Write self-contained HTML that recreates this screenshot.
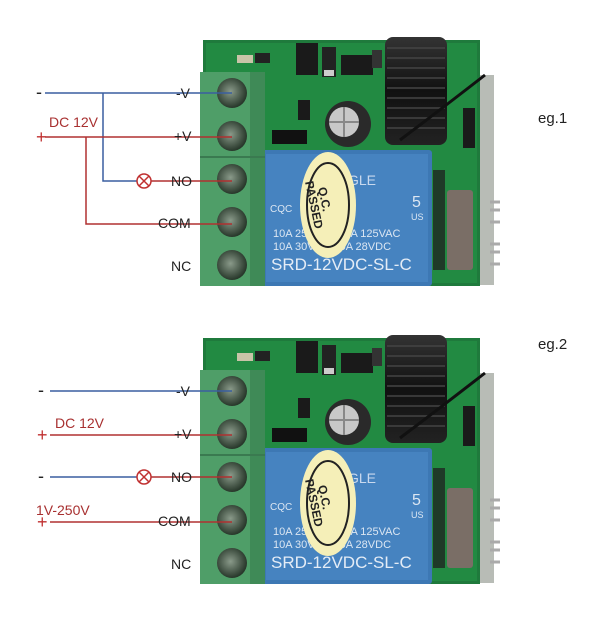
<!DOCTYPE html>
<html><head><meta charset="utf-8"><style>
html,body{margin:0;padding:0;background:#fff;width:600px;height:621px;overflow:hidden}
svg{display:block}
text{font-family:"Liberation Sans",sans-serif}
</style></head><body>
<svg width="600" height="621" viewBox="0 0 600 621" xmlns="http://www.w3.org/2000/svg">
<defs>
<radialGradient id="scr" cx="0.45" cy="0.45" r="0.6"><stop offset="0" stop-color="#8a9a8a"/><stop offset="0.7" stop-color="#3e4e40"/><stop offset="1" stop-color="#1f2e22"/></radialGradient>
<linearGradient id="coil" x1="0" x2="0" y1="0" y2="1"><stop offset="0" stop-color="#333"/><stop offset="0.5" stop-color="#111"/><stop offset="1" stop-color="#222"/></linearGradient>
</defs>

<!-- ===== MODULE 1 ===== -->
<g id="m1">
<rect x="478" y="75" width="16" height="210" fill="#b8bcb6"/>
<rect x="203" y="40" width="277" height="246" fill="#1f7a3c"/>
<rect x="206" y="43" width="271" height="240" fill="#228a42" />
<rect x="237" y="55" width="16" height="8" fill="#c9c4a8"/>
<rect x="255" y="53" width="15" height="10" fill="#222"/>
<rect x="296" y="43" width="22" height="32" fill="#1a1a1a"/>
<rect x="322" y="47" width="14" height="30" fill="#222"/><rect x="324" y="70" width="10" height="6" fill="#ccc"/>
<rect x="341" y="55" width="32" height="20" fill="#1a1a1a"/>
<rect x="372" y="50" width="10" height="18" fill="#333"/>
<rect x="298" y="100" width="12" height="20" fill="#1a1a1a"/>
<rect x="272" y="130" width="35" height="14" fill="#111"/>
<circle cx="348" cy="124" r="23" fill="#2a2a2a"/>
<circle cx="344" cy="122" r="15" fill="#c8c8c8"/>
<path d="M344 107 V137 M329 122 H359" stroke="#888" stroke-width="2"/>
<rect x="385" y="37" width="62" height="108" rx="8" fill="url(#coil)"/>
<g stroke="#444" stroke-width="1.5">
<line x1="387" y1="48" x2="445" y2="48"/><line x1="387" y1="58" x2="445" y2="58"/><line x1="387" y1="68" x2="445" y2="68"/><line x1="387" y1="78" x2="445" y2="78"/><line x1="387" y1="88" x2="445" y2="88"/><line x1="387" y1="98" x2="445" y2="98"/><line x1="387" y1="108" x2="445" y2="108"/><line x1="387" y1="118" x2="445" y2="118"/><line x1="387" y1="128" x2="445" y2="128"/></g>
<path d="M400 140 Q440 110 485 75" stroke="#111" stroke-width="3" fill="none"/>
<rect x="463" y="108" width="12" height="40" fill="#1a1a1a"/>
<rect x="447" y="190" width="26" height="80" rx="3" fill="#7a6e66"/>
<g stroke="#aaa" stroke-width="3"><line x1="490" y1="202" x2="500" y2="202"/><line x1="490" y1="210" x2="500" y2="210"/><line x1="490" y1="222" x2="500" y2="222"/><line x1="490" y1="244" x2="500" y2="244"/><line x1="490" y1="252" x2="500" y2="252"/><line x1="490" y1="264" x2="500" y2="264"/></g>
<rect x="433" y="170" width="12" height="100" fill="#1f3a28"/>
<!-- relay -->
<rect x="262" y="150" width="170" height="136" rx="3" fill="#3d78b4"/>
<rect x="266" y="154" width="162" height="128" fill="#4683c0"/>
<text x="348" y="185" font-size="14" fill="#c9d9ee" font-family="Liberation Serif,serif">GLE</text>
<text x="412" y="207" font-size="16" fill="#dbe6f2">5</text>
<text x="411" y="220" font-size="9" fill="#dbe6f2">US</text>
<text x="270" y="212" font-size="10" fill="#dbe6f2">CQC</text>
<text x="273" y="237" font-size="11" fill="#dbe6f2">10A 250VAC  10A 125VAC</text>
<text x="273" y="250" font-size="11" fill="#dbe6f2">10A 30VDC  10A  28VDC</text>
<text x="271" y="270" font-size="17" fill="#e4ecf6">SRD-12VDC-SL-C</text>
<ellipse cx="328" cy="205" rx="28" ry="53" fill="#f5efb8"/>
<ellipse cx="328" cy="205" rx="21" ry="42" fill="none" stroke="#222" stroke-width="2"/>
<text transform="translate(318,188) rotate(78)" font-size="12" font-weight="bold" fill="#222">Q.C.</text>
<text transform="translate(305,182) rotate(78)" font-size="12" font-weight="bold" fill="#222">PASSED</text>
<!-- terminal block -->
<rect x="200" y="72" width="65" height="214" fill="#4f9e68"/>
<rect x="250" y="72" width="15" height="214" fill="#3f8a57"/>
<line x1="200" y1="157" x2="265" y2="157" stroke="#3a7a50" stroke-width="2"/>
<circle cx="232" cy="93" r="15" fill="url(#scr)"/>
<circle cx="232" cy="136" r="15" fill="url(#scr)"/>
<circle cx="232" cy="179" r="15" fill="url(#scr)"/>
<circle cx="232" cy="222" r="15" fill="url(#scr)"/>
<circle cx="232" cy="265" r="15" fill="url(#scr)"/>
<!-- wires -->
<path d="M45 93 H232 M103 93 V181 H137" stroke="#3a5fa0" stroke-width="1.5" fill="none"/>
<path d="M45 137 H232 M86 137 V224 H232 M151 181 H232" stroke="#b03030" stroke-width="1.5" fill="none"/>
<circle cx="144" cy="181" r="7" fill="#fff" stroke="#c03030" stroke-width="1.5"/>
<path d="M139 176 L149 186 M149 176 L139 186" stroke="#c03030" stroke-width="1.5"/>
<text x="36" y="98" font-size="18" fill="#222">-</text>
<text x="36" y="143" font-size="18" fill="#c03030">+</text>
<text x="49" y="127" font-size="14" fill="#a83030">DC 12V</text>
<text x="176" y="98" font-size="14" fill="#222">-V</text>
<text x="174" y="141" font-size="14" fill="#222">+V</text>
<text x="171" y="186" font-size="14" fill="#222">NO</text>
<text x="158" y="228" font-size="14" fill="#222">COM</text>
<text x="171" y="271" font-size="14" fill="#222">NC</text>
<text x="538" y="123" font-size="15" fill="#222">eg.1</text>
</g>

<!-- ===== MODULE 2 ===== -->
<g transform="translate(0,298)">
<rect x="478" y="75" width="16" height="210" fill="#b8bcb6"/>
<rect x="203" y="40" width="277" height="246" fill="#1f7a3c"/>
<rect x="206" y="43" width="271" height="240" fill="#228a42" />
<rect x="237" y="55" width="16" height="8" fill="#c9c4a8"/>
<rect x="255" y="53" width="15" height="10" fill="#222"/>
<rect x="296" y="43" width="22" height="32" fill="#1a1a1a"/>
<rect x="322" y="47" width="14" height="30" fill="#222"/><rect x="324" y="70" width="10" height="6" fill="#ccc"/>
<rect x="341" y="55" width="32" height="20" fill="#1a1a1a"/>
<rect x="372" y="50" width="10" height="18" fill="#333"/>
<rect x="298" y="100" width="12" height="20" fill="#1a1a1a"/>
<rect x="272" y="130" width="35" height="14" fill="#111"/>
<circle cx="348" cy="124" r="23" fill="#2a2a2a"/>
<circle cx="344" cy="122" r="15" fill="#c8c8c8"/>
<path d="M344 107 V137 M329 122 H359" stroke="#888" stroke-width="2"/>
<rect x="385" y="37" width="62" height="108" rx="8" fill="url(#coil)"/>
<g stroke="#444" stroke-width="1.5">
<line x1="387" y1="48" x2="445" y2="48"/><line x1="387" y1="58" x2="445" y2="58"/><line x1="387" y1="68" x2="445" y2="68"/><line x1="387" y1="78" x2="445" y2="78"/><line x1="387" y1="88" x2="445" y2="88"/><line x1="387" y1="98" x2="445" y2="98"/><line x1="387" y1="108" x2="445" y2="108"/><line x1="387" y1="118" x2="445" y2="118"/><line x1="387" y1="128" x2="445" y2="128"/></g>
<path d="M400 140 Q440 110 485 75" stroke="#111" stroke-width="3" fill="none"/>
<rect x="463" y="108" width="12" height="40" fill="#1a1a1a"/>
<rect x="447" y="190" width="26" height="80" rx="3" fill="#7a6e66"/>
<g stroke="#aaa" stroke-width="3"><line x1="490" y1="202" x2="500" y2="202"/><line x1="490" y1="210" x2="500" y2="210"/><line x1="490" y1="222" x2="500" y2="222"/><line x1="490" y1="244" x2="500" y2="244"/><line x1="490" y1="252" x2="500" y2="252"/><line x1="490" y1="264" x2="500" y2="264"/></g>
<rect x="433" y="170" width="12" height="100" fill="#1f3a28"/>
<rect x="262" y="150" width="170" height="136" rx="3" fill="#3d78b4"/>
<rect x="266" y="154" width="162" height="128" fill="#4683c0"/>
<text x="348" y="185" font-size="14" fill="#c9d9ee" font-family="Liberation Serif,serif">GLE</text>
<text x="412" y="207" font-size="16" fill="#dbe6f2">5</text>
<text x="411" y="220" font-size="9" fill="#dbe6f2">US</text>
<text x="270" y="212" font-size="10" fill="#dbe6f2">CQC</text>
<text x="273" y="237" font-size="11" fill="#dbe6f2">10A 250VAC  10A 125VAC</text>
<text x="273" y="250" font-size="11" fill="#dbe6f2">10A 30VDC  10A  28VDC</text>
<text x="271" y="270" font-size="17" fill="#e4ecf6">SRD-12VDC-SL-C</text>
<ellipse cx="328" cy="205" rx="28" ry="53" fill="#f5efb8"/>
<ellipse cx="328" cy="205" rx="21" ry="42" fill="none" stroke="#222" stroke-width="2"/>
<text transform="translate(318,188) rotate(78)" font-size="12" font-weight="bold" fill="#222">Q.C.</text>
<text transform="translate(305,182) rotate(78)" font-size="12" font-weight="bold" fill="#222">PASSED</text>
<rect x="200" y="72" width="65" height="214" fill="#4f9e68"/>
<rect x="250" y="72" width="15" height="214" fill="#3f8a57"/>
<line x1="200" y1="157" x2="265" y2="157" stroke="#3a7a50" stroke-width="2"/>
<circle cx="232" cy="93" r="15" fill="url(#scr)"/>
<circle cx="232" cy="136" r="15" fill="url(#scr)"/>
<circle cx="232" cy="179" r="15" fill="url(#scr)"/>
<circle cx="232" cy="222" r="15" fill="url(#scr)"/>
<circle cx="232" cy="265" r="15" fill="url(#scr)"/>
<path d="M50 93 H232 M50 179 H137" stroke="#3a5fa0" stroke-width="1.5" fill="none"/>
<path d="M50 137 H232 M50 224 H232 M151 179 H232" stroke="#b03030" stroke-width="1.5" fill="none"/>
<circle cx="144" cy="179" r="7" fill="#fff" stroke="#c03030" stroke-width="1.5"/>
<path d="M139 174 L149 184 M149 174 L139 184" stroke="#c03030" stroke-width="1.5"/>
<text x="38" y="98" font-size="18" fill="#222">-</text>
<text x="37" y="143" font-size="18" fill="#c03030">+</text>
<text x="38" y="184" font-size="18" fill="#222">-</text>
<text x="37" y="230" font-size="18" fill="#c03030">+</text>
<text x="55" y="130" font-size="14" fill="#a83030">DC 12V</text>
<text x="36" y="217" font-size="14" fill="#a83030">1V-250V</text>
<text x="176" y="98" font-size="14" fill="#222">-V</text>
<text x="174" y="141" font-size="14" fill="#222">+V</text>
<text x="171" y="184" font-size="14" fill="#222">NO</text>
<text x="158" y="228" font-size="14" fill="#222">COM</text>
<text x="171" y="271" font-size="14" fill="#222">NC</text>
<text x="538" y="51" font-size="15" fill="#222">eg.2</text>
</g>
</svg>
</body></html>
